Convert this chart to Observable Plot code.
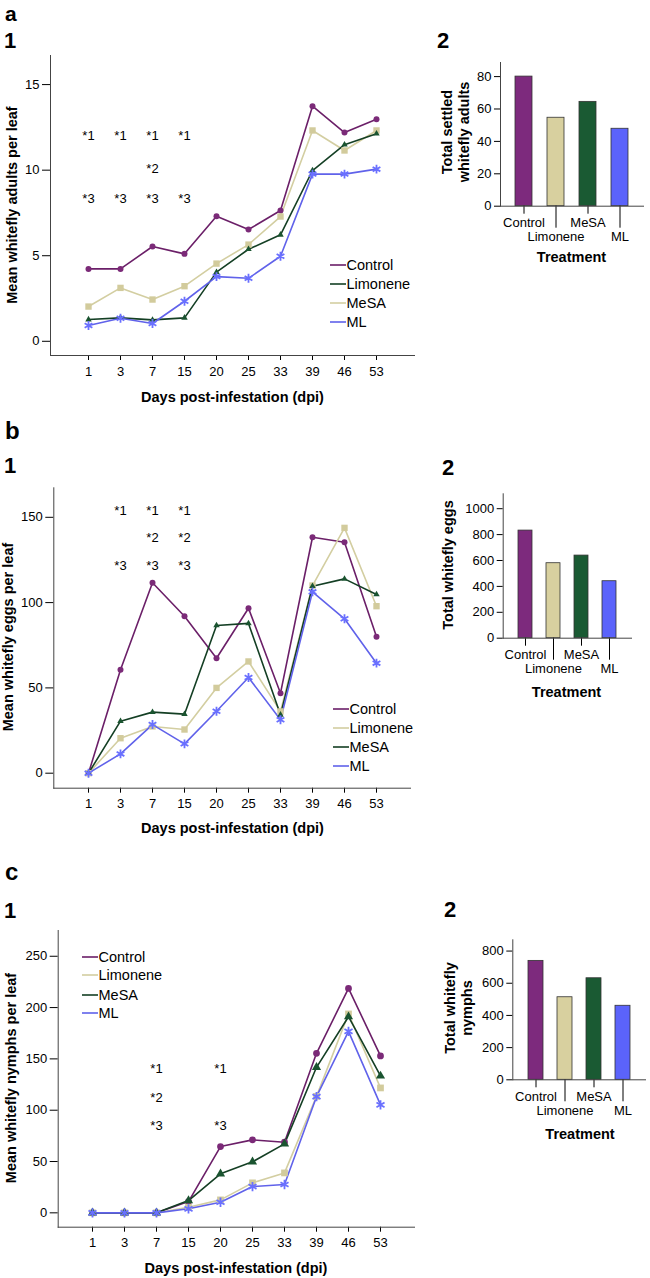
<!DOCTYPE html>
<html><head><meta charset="utf-8">
<script src="https://cdn.jsdelivr.net/npm/d3@7"></script>
<script src="https://cdn.jsdelivr.net/npm/@observablehq/plot@0.6"></script>
<style>
body{margin:0;background:#fff;}
#root{position:relative;width:650px;height:1278px;overflow:hidden;font-family:"Liberation Sans",Arial,sans-serif;color:#000;background:#fff;}
.abs{position:absolute;white-space:nowrap;line-height:1;}
.plot{position:absolute;overflow:visible;}
</style></head><body><div id="root"></div>
<script>
// ---------- data ----------
const days = ["1","3","7","15","20","25","33","39","46","53"];
const treatments = ["Control","Limonene","MeSA","ML"];

// a1: mean whitefly adults per leaf
const adultsControl  = [4.23,4.23,5.54,5.11,7.31,6.53,7.64,13.74,12.2,12.98];
const adultsLimonene = [1.27,1.37,1.25,1.37,4.04,5.38,6.22,9.98,11.49,12.13];
const adultsMeSA     = [2.03,3.12,2.44,3.22,4.54,5.65,7.29,12.32,11.15,12.32];
const adultsML       = [0.92,1.35,1.04,2.34,3.78,3.68,4.97,9.77,9.77,10.06];
const adultsAnnotDays   = ["1","3","7","15","7","1","3","7","15"];
const adultsAnnotLabels = ["*1","*1","*1","*1","*2","*3","*3","*3","*3"];
const adultsAnnotLevels = [12.03,12.03,12.03,12.03,10.08,8.33,8.33,8.33,8.33];
// a2: total settled whitefly adults
const adultsTotal = [80,54.6,64.4,47.8];

// b1: mean whitefly eggs per leaf
const eggsControl  = [0,60.6,111.6,92.0,67.4,96.7,46.9,138.3,135.4,80.0];
const eggsLimonene = [0,20.5,27.4,25.6,50.0,65.5,36.2,110.0,143.8,97.9];
const eggsMeSA     = [0,30.5,35.8,34.6,86.6,87.8,34.2,109.6,113.9,104.8];
const eggsML       = [0,11.3,28.5,17.2,36.3,56.1,31.3,106.3,90.5,64.5];
const eggsAnnotDays   = ["3","7","15","7","15","3","7","15"];
const eggsAnnotLabels = ["*1","*1","*1","*2","*2","*3","*3","*3"];
const eggsAnnotLevels = [154,154,154,138,138,121.7,121.7,121.7];
// b2: total whitefly eggs
const eggsTotal = [831,579,638,440];

// c1: mean whitefly nymphs per leaf
const nymphsControl  = [0,0,0,11,64.6,71.1,68.8,155.4,218.7,152.9];
const nymphsLimonene = [0,0,0,5.5,12.6,29.2,38.9,113.5,193.8,121.7];
const nymphsMeSA     = [0,0,0,12.0,38.0,49.7,67.2,141.8,191.1,133.4];
const nymphsML       = [0,0,0,3.9,10.3,25.6,27.6,113.2,176.8,105.2];
const nymphsAnnotDays   = ["7","20","7","7","20"];
const nymphsAnnotLabels = ["*1","*1","*2","*3","*3"];
const nymphsAnnotLevels = [140.2,140.2,112,85,85];
// c2: total whitefly nymphs
const nymphsTotal = [739,513,631,460];

// ---------- styles ----------
const FONT = "Liberation Sans, Arial, sans-serif";
const C = {
  purple:{line:"#6b1f68", mark:"#7b2a78", bar:"#7d2a7d", symbol:"circle"},
  beige:{line:"#d3cea1", mark:"#d2cb9c", bar:"#d8d09f", symbol:"square"},
  green:{line:"#143f24", mark:"#1a5430", bar:"#1a5a33", symbol:"triangle"},
  blue:{line:"#6062ea", mark:"#6a70ff", bar:"#5b63fb", symbol:"asterisk"}
};
const barColors = [C.purple.bar, C.beige.bar, C.green.bar, C.blue.bar];

const root = document.getElementById("root");

function txt(t, x, y, o = {}) {
  const d = document.createElement("div");
  d.className = "abs";
  d.textContent = t;
  d.style.left = x + "px";
  d.style.top = y + "px";
  d.style.fontSize = (o.size || 14.5) + "px";
  d.style.fontWeight = o.bold ? "bold" : "normal";
  if (o.font) d.style.fontFamily = o.font;
  if (o.lh) d.style.lineHeight = o.lh;
  const tx = o.align === "left" ? "0" : "-50%";
  d.style.transform = `translate(${tx},-50%)` + (o.rotate ? " rotate(-90deg)" : "");
  root.appendChild(d);
  return d;
}

function legend(entries, x, ys) {
  entries.forEach((e, i) => {
    const s = document.createElementNS("http://www.w3.org/2000/svg", "svg");
    s.setAttribute("width", 16); s.setAttribute("height", 4);
    s.style.position = "absolute";
    s.style.left = x + "px"; s.style.top = (ys[i] - 2) + "px";
    const l = document.createElementNS("http://www.w3.org/2000/svg", "line");
    l.setAttribute("x1", 0); l.setAttribute("x2", 16); l.setAttribute("y1", 2); l.setAttribute("y2", 2);
    l.setAttribute("stroke", e.style.line); l.setAttribute("stroke-width", 1.6);
    s.appendChild(l); root.appendChild(s);
    txt(e.name, x + 16.5, ys[i], {align: "left", size: 14.5});
  });
}

function place(svg, left, top) {
  svg.classList.add("plot");
  svg.style.left = left + "px";
  svg.style.top = top + "px";
  root.appendChild(svg);
}

function linePanel(cfg) {
  const marks = [
    Plot.axisY({ticks: cfg.yTicks, tickSize: 8, tickPadding: 3, label: null, fontSize: 13, tickFormat: d3.format("d")}),
    Plot.axisX({tickSize: 5, tickPadding: 6, label: null, fontSize: 13}),
    Plot.frame({anchor: "left", stroke: "#444"}),
    Plot.frame({anchor: "bottom", stroke: "#444"})
  ];
  const rowsBy = cfg.series.map(s => s.values.map((v, i) => ({day: days[i], value: v, name: s.name})));
  cfg.series.forEach((s, k) => {
    marks.push(Plot.line(rowsBy[k], {x: "day", y: "value", stroke: s.style.line, strokeWidth: 1.6}));
  });
  cfg.series.forEach((s, k) => {
    const st = s.style;
    const opts = {x: "day", y: "value", symbol: () => st.symbol, r: cfg.r[st.symbol]};
    if (st.symbol === "asterisk") { opts.stroke = st.mark; opts.strokeWidth = 1.8; }
    else { opts.fill = st.mark; opts.stroke = "none"; }
    marks.push(Plot.dot(rowsBy[k], opts));
  });
  const ann = cfg.annot.days.map((d, i) => ({day: d, level: cfg.annot.levels[i], label: cfg.annot.labels[i]}));
  marks.push(Plot.text(ann, {x: "day", y: "level", text: "label", fontSize: 13, fill: "#000"}));
  const svg = Plot.plot({
    width: cfg.w, height: cfg.h,
    marginLeft: cfg.m[0], marginRight: cfg.m[1], marginTop: cfg.m[2], marginBottom: cfg.m[3],
    style: {fontFamily: FONT, fontSize: "13px", color: "#000", background: "transparent", overflow: "visible"},
    x: {type: "point", domain: days, padding: 1.04, label: null},
    y: {domain: cfg.yDomain, label: null},
    symbol: {type: "identity"},
    marks
  });
  place(svg, cfg.left, cfg.top);
}

function barPanel(cfg) {
  const rows = treatments.map((t, i) => ({treatment: t, total: cfg.values[i]}));
  const svg = Plot.plot({
    width: cfg.w, height: cfg.h,
    marginLeft: cfg.m[0], marginRight: cfg.m[1], marginTop: cfg.m[2], marginBottom: cfg.m[3],
    style: {fontFamily: FONT, fontSize: "13px", color: "#000", background: "transparent", overflow: "visible"},
    x: {type: "band", domain: treatments, paddingInner: cfg.pi, paddingOuter: cfg.po, label: null},
    y: {domain: cfg.yDomain, label: null},
    color: {domain: treatments, range: barColors},
    marks: [
      Plot.barY(rows, {x: "treatment", y: "total", fill: "treatment", stroke: "#333", strokeWidth: 0.8}),
      Plot.axisY({ticks: cfg.yTicks, tickSize: 6, tickPadding: 3, label: null, fontSize: 13, tickFormat: d3.format("d")}),
      Plot.axisX({ticks: ["Control", "MeSA"], tickSize: 8, tickPadding: 4, label: null, fontSize: 13}),
      Plot.axisX({ticks: ["Limonene", "ML"], tickSize: 22, tickPadding: 4, label: null, fontSize: 13}),
      Plot.frame({anchor: "left", stroke: "#444"}),
      Plot.frame({anchor: "bottom", stroke: "#444"})
    ]
  });
  place(svg, cfg.left, cfg.top);
}

// ---------- panel a ----------
const aSeries = [
  {name: "Control", values: adultsControl, style: C.purple},
  {name: "MeSA", values: adultsMeSA, style: C.beige},
  {name: "Limonene", values: adultsLimonene, style: C.green},
  {name: "ML", values: adultsML, style: C.blue}
];
linePanel({left: 0, top: 0, w: 420, h: 385, m: [50, 6, 55, 30], yDomain: [-0.83, 16.7], yTicks: [0,5,10,15],
  series: aSeries, r: {circle: 3, square: 3.6, triangle: 2.4, asterisk: 4.2},
  annot: {days: adultsAnnotDays, labels: adultsAnnotLabels, levels: adultsAnnotLevels}});
legend([aSeries[0], aSeries[2], aSeries[1], aSeries[3]], 330, [265, 283.5, 302.5, 321.5]);
barPanel({left: 420, top: 40, w: 230, h: 210, m: [80, 7, 22, 44.3], yDomain: [0, 88.7], yTicks: [0,20,40,60,80],
  values: adultsTotal, pi: 0.475, po: 0.457});

// ---------- panel b ----------
const bSeries = [
  {name: "Control", values: eggsControl, style: C.purple},
  {name: "Limonene", values: eggsLimonene, style: C.beige},
  {name: "MeSA", values: eggsMeSA, style: C.green},
  {name: "ML", values: eggsML, style: C.blue}
];
linePanel({left: 0, top: 400, w: 420, h: 415, m: [53.3, 10, 87.3, 27.3], yDomain: [-8.8, 167.3], yTicks: [0,50,100,150],
  series: bSeries, r: {circle: 3, square: 3.6, triangle: 2.4, asterisk: 4.2},
  annot: {days: eggsAnnotDays, labels: eggsAnnotLabels, levels: eggsAnnotLevels}});
legend(bSeries, 333, [709, 727.7, 746.7, 765.7]);
barPanel({left: 420, top: 470, w: 230, h: 210, m: [82.7, 19, 23.3, 42.3], yDomain: [0, 1115], yTicks: [0,200,400,600,800,1000],
  values: eggsTotal, pi: 0.483, po: 0.466});

// ---------- panel c ----------
const cSeries = [
  {name: "Control", values: nymphsControl, style: C.purple},
  {name: "Limonene", values: nymphsLimonene, style: C.beige},
  {name: "MeSA", values: nymphsMeSA, style: C.green},
  {name: "ML", values: nymphsML, style: C.blue}
];
linePanel({left: 0, top: 820, w: 420, h: 430, m: [57.7, 6, 110, 23.3], yDomain: [-14, 275.1], yTicks: [0,50,100,150,200,250],
  series: cSeries, r: {circle: 3.4, square: 3.8, triangle: 3.4, asterisk: 4.4},
  annot: {days: nymphsAnnotDays, labels: nymphsAnnotLabels, levels: nymphsAnnotLevels}});
legend(cSeries, 82, [956.7, 975.3, 994.7, 1013.3]);
barPanel({left: 420, top: 920, w: 230, h: 210, m: [92.3, 5, 19.3, 50.7], yDomain: [0, 870], yTicks: [0,200,400,600,800],
  values: nymphsTotal, pi: 0.5, po: 0.47});

// ---------- text ----------
const PF = "Liberation Sans, Arial, sans-serif";
txt("a", 5, 12.5, {align: "left", size: 21, bold: true, font: PF});
txt("1", 4, 40.5, {align: "left", size: 22, bold: true, font: PF});
txt("2", 437, 41, {align: "left", size: 22, bold: true, font: PF});
txt("b", 5, 430.5, {align: "left", size: 24, bold: true, font: PF});
txt("1", 4, 465.8, {align: "left", size: 22, bold: true, font: PF});
txt("2", 442, 468.3, {align: "left", size: 22, bold: true, font: PF});
txt("c", 5, 872, {align: "left", size: 24, bold: true, font: PF});
txt("1", 4, 910.8, {align: "left", size: 22, bold: true, font: PF});
txt("2", 444, 910.3, {align: "left", size: 22, bold: true, font: PF});

txt("Mean whitefly adults per leaf", 11.5, 205, {bold: true, rotate: true});
txt("Days post-infestation (dpi)", 232.5, 397, {bold: true});
txt("Total settled", 447, 132, {bold: true, rotate: true});
txt("whitefly adults", 463.5, 132, {bold: true, rotate: true});
txt("Treatment", 571.5, 257, {bold: true});

txt("Mean whitefly eggs per leaf", 8, 637, {bold: true, rotate: true});
txt("Days post-infestation (dpi)", 232.5, 828, {bold: true});
txt("Total whitefly eggs", 448, 565, {bold: true, rotate: true});
txt("Treatment", 566.5, 691.7, {bold: true});

txt("Mean whitefly nymphs per leaf", 11, 1077.5, {bold: true, rotate: true});
txt("Days post-infestation (dpi)", 236, 1268, {bold: true});
txt("Total whitefly", 450, 1007.5, {bold: true, rotate: true});
txt("nymphs", 466.7, 1007.5, {bold: true, rotate: true});
txt("Treatment", 580, 1134.3, {bold: true});
</script></body></html>
